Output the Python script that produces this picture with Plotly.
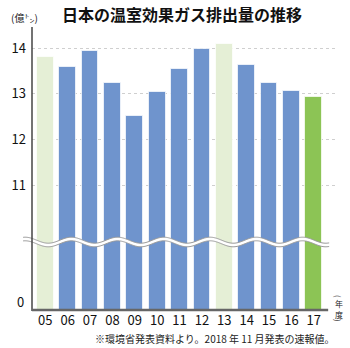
import numpy as np
import plotly.graph_objects as go

# ---- data ----
years = ["05", "06", "07", "08", "09", "10", "11", "12", "13", "14", "15", "16", "17"]
emissions = [13.80, 13.58, 13.94, 13.23, 12.51, 13.05, 13.55, 13.97, 14.09, 13.62, 13.24, 13.07, 12.94]
y_ticks = [11, 12, 13, 14]
title = "日本の温室効果ガス排出量の推移"
unit_label = "(億㌧)"
note = "※環境省発表資料より。2018 年 11 月発表の速報値。"
year_unit = ["(", "年", "度", ")"]

# ---- styles ----
BLUE = "#6f94cd"
LIGHT = "#e5efd6"
GREEN = "#8cc455"
highlight = {"05": LIGHT, "13": LIGHT, "17": GREEN}
colors = [highlight.get(y, BLUE) for y in years]

W, H = 350, 348
L, R, T, B = 27, 12, 27, 37
pw, ph = W - L - R, H - T - B
ymin, ymax = 8.26, 14.46

def px(x):
    return (x - L) / pw

def py(y):
    return (H - B - y) / ph

FONT = "Noto Sans CJK JP"

fig = go.Figure()
fig.add_trace(go.Bar(
    x=years, y=emissions, width=0.75,
    marker=dict(color=colors, line=dict(color="rgba(255,255,255,0.7)", width=1)),
))

shapes = []
# wavy break band
xs = np.linspace(18, 329, 300)
yc = 242 - 3 * np.cos(2 * np.pi * (xs - 67) / 47)
top = yc - 1.8
bot = yc + 1.8
poly = "M " + " L ".join(f"{px(a):.5f},{py(b):.5f}" for a, b in zip(xs, top))
poly += " L " + " L ".join(f"{px(a):.5f},{py(b):.5f}" for a, b in zip(xs[::-1], bot[::-1])) + " Z"
shapes.append(dict(type="path", xref="paper", yref="paper", path=poly,
                   fillcolor="white", line=dict(width=0), layer="above"))
for edge in (top, bot):
    p = "M " + " L ".join(f"{px(a):.5f},{py(b):.5f}" for a, b in zip(xs, edge))
    shapes.append(dict(type="path", xref="paper", yref="paper", path=p,
                       line=dict(color="#999", width=1), layer="above"))
# axes lines
shapes.append(dict(type="line", xref="paper", yref="paper", x0=0, x1=0, y0=0, y1=1,
                   line=dict(color="#444", width=1.5), layer="above"))
shapes.append(dict(type="line", xref="paper", yref="paper", x0=0, x1=px(328), y0=py(310), y1=py(310),
                   line=dict(color="#666", width=2.5), layer="above"))

annotations = [
    dict(text=f"<b>{title}</b>", x=px(179), y=py(14), xref="paper", yref="paper",
         showarrow=False, font=dict(size=16, color="#111", family=FONT), xanchor="center", yanchor="middle"),
    dict(text=unit_label, x=px(4), y=py(17), xref="paper", yref="paper",
         showarrow=False, font=dict(size=10, color="#222", family=FONT), xanchor="left", yanchor="middle"),
    dict(text="0", x=px(15), y=py(301), xref="paper", yref="paper",
         showarrow=False, font=dict(size=13, color="#111", family=FONT), xanchor="center", yanchor="middle"),
    dict(text=note, x=px(337), y=py(338), xref="paper", yref="paper",
         showarrow=False, font=dict(size=10, color="#222", family=FONT), xanchor="right", yanchor="middle"),
]
for ch, yy in zip(year_unit, [297, 303, 314.5, 321]):
    rot = 90 if ch in "()" else 0
    annotations.append(dict(text=ch, x=px(339), y=py(yy), xref="paper", yref="paper",
                            showarrow=False, textangle=rot, borderpad=0,
                            font=dict(size=8, color="#222", family=FONT),
                            xanchor="center", yanchor="middle"))

fig.update_layout(
    width=W, height=H,
    margin=dict(l=L, r=R, t=T, b=B),
    paper_bgcolor="white", plot_bgcolor="white",
    showlegend=False,
    bargap=0,
    shapes=shapes, annotations=annotations,
    xaxis=dict(type="category", range=[-0.593, 13.08], showgrid=False, showline=False,
               zeroline=False, ticks="", tickfont=dict(size=13, color="#111", family=FONT)),
    yaxis=dict(range=[ymin, ymax], tickvals=y_ticks, ticktext=[str(v) for v in y_ticks],
               showgrid=True, gridcolor="#cfcfcf", griddash="dot", gridwidth=1,
               showline=False, zeroline=False, ticks="", ticklabelstandoff=5,
               tickfont=dict(size=13, color="#111", family=FONT)),
)

fig.write_html("out.html")
